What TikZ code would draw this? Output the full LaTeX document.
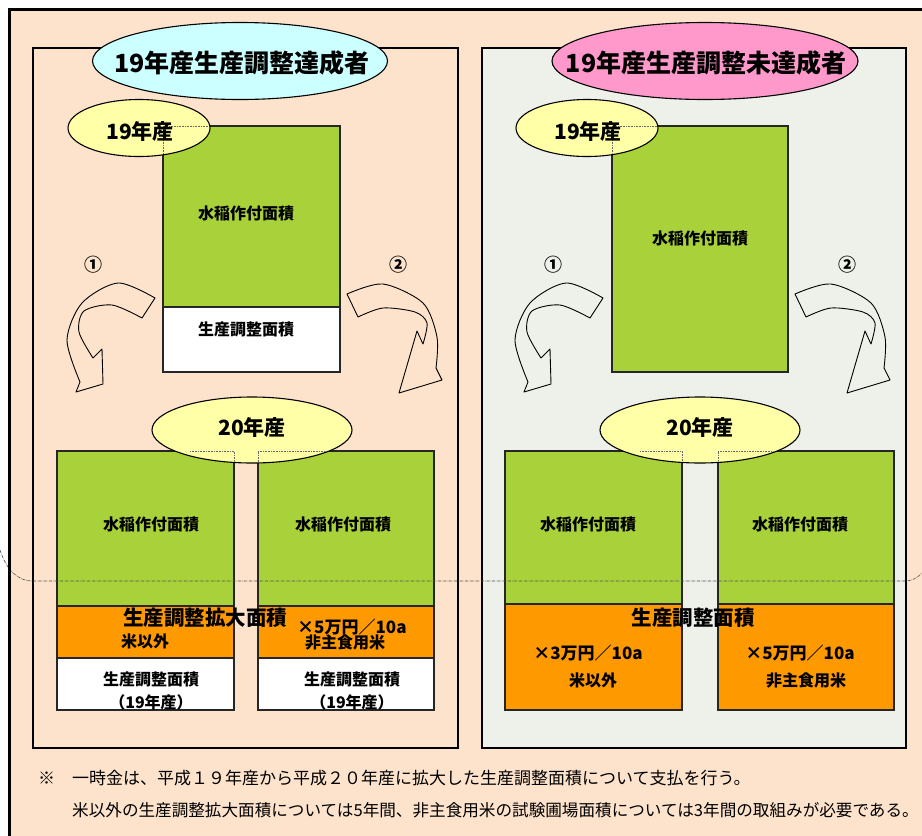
\documentclass[tikz,border=0pt]{standalone}
\usepackage{fontspec}
\setmainfont{Noto Sans CJK JP}
\usetikzlibrary{shapes.geometric}
\definecolor{peach}{HTML}{FDE3CC}
\definecolor{rpanel}{HTML}{EDF1EA}
\definecolor{grn}{HTML}{A9D23A}
\definecolor{grnline}{HTML}{9CC82A}
\definecolor{org}{HTML}{FF9900}
\definecolor{ylw}{HTML}{FFFFA8}
\definecolor{cyn}{HTML}{CCFFFF}
\definecolor{pnk}{HTML}{FF99CC}
\tikzset{
  fs/.style={font=\bfseries\fontsize{#1}{#1}\selectfont},
  txt/.style={inner sep=0pt, fs=#1},
  txt/.default=16,
  panel/.style={draw=black, line width=1.1pt, anchor=north west, inner sep=0pt, outer sep=0pt},
  bx/.style={draw=black!85, line width=1.4pt, anchor=north west, inner sep=0pt, outer sep=0pt},
  gbox/.style={bx, fill=grn},
  obox/.style={bx, fill=org},
  wbox/.style={bx, fill=white},
  ell/.style={ellipse, draw=black, line width=1.1pt, inner sep=0pt},
  yell/.style={ell, fill=ylw},
  carrow/.style={draw=black, line width=0.9pt, line join=round},
  num/.style={inner sep=0pt, font=\bfseries\fontsize{18}{18}\selectfont},
  foot/.style={inner sep=0pt, anchor=west, font=\fontsize{#1}{#1}\selectfont},
  foot/.default=17,
}
\begin{document}
\begin{tikzpicture}[x=1pt,y=-1pt]
\useasboundingbox (0,0) rectangle (922,836);
\fill[white] (0,0) rectangle (922,836);
\fill[peach] (9.5,9.5) rectangle (922,836);

% panels
\node[panel, minimum width=425pt, minimum height=700pt] (pL) at (33,48) {};
\node[panel, fill=rpanel, minimum width=424pt, minimum height=700pt] (pR) at (482,48) {};

% title ellipses
\node[ell, fill=cyn, minimum width=295pt, minimum height=77pt] (tL) at (240,61) {};
\node[txt=25] (tLt) at (242,63) {19年産生産調整達成者};
\node[ell, fill=pnk, minimum width=306pt, minimum height=77pt] (tR) at (705,61) {};
\node[txt=25] (tRt) at (706,63) {19年産生産調整未達成者};

% ---------- left panel, 19 ----------
\node[gbox, minimum width=177pt, minimum height=181pt] (g19L) at (163,126) {};
\node[wbox, minimum width=177pt, minimum height=65pt] (w19L) at (163,307) {};
\node[txt] (g19Lt) at (246,213) {水稲作付面積};
\node[txt] (w19Lt) at (246,329) {生産調整面積};
\node[yell, minimum width=142pt, minimum height=57pt] (e19L) at (139,128) {};
\begin{scope}
\clip (139,128) ellipse [x radius=70pt, y radius=27.5pt];
\draw[densely dotted, black!60, line width=0.6pt] (163,160) -- (163,126) -- (250,126);
\end{scope}
\node[txt=21] (e19Lt) at (140,131) {19年産};

% ---------- right panel, 19 ----------
\node[gbox, minimum width=176pt, minimum height=246pt] (g19R) at (612,126) {};
\node[txt] (g19Rt) at (700,238) {水稲作付面積};
\node[yell, minimum width=142pt, minimum height=57pt] (e19R) at (587,128) {};
\begin{scope}
\clip (587,128) ellipse [x radius=70pt, y radius=27.5pt];
\draw[densely dotted, black!60, line width=0.6pt] (612,160) -- (612,126) -- (700,126);
\end{scope}
\node[txt=21] (e19Rt) at (588,131) {19年産};

% circled numbers
\node[num] (n1L) at (93,265) {①};
\node[num] (n2L) at (398,265) {②};
\node[num] (n1R) at (553,265) {①};
\node[num] (n2R) at (847,265) {②};

% curved arrows
\foreach \dx in {0,448}{
\begin{scope}[xshift=\dx pt]
\draw[carrow] plot[smooth] coordinates {(155,298) (118,283) (82,303) (67,340) (80,382)}
  -- (76,392) -- (103,384) -- (102,349) -- (93,358)
  -- plot[smooth] coordinates {(93,358) (79,332) (84,311) (112,305) (142,318)} -- cycle;
\draw[carrow] plot[smooth] coordinates {(347,294) (383,284) (423,303) (437,337) (436,368)}
  -- (442,380) -- (399,393) -- (417,331) -- (423,344)
  -- plot[smooth] coordinates {(423,344) (427,323) (415,312) (383,308) (358,317)} -- cycle;
\end{scope}
}

% ---------- left panel, 20 ----------
\node[gbox, minimum width=177pt, minimum height=155pt] (gA) at (57,451) {};
\node[obox, minimum width=177pt, minimum height=52pt] (oA) at (57,606) {};
\node[wbox, minimum width=177pt, minimum height=52pt] (wA) at (57,658) {};
\node[gbox, minimum width=176pt, minimum height=155pt] (gB) at (258,451) {};
\node[obox, minimum width=176pt, minimum height=52pt] (oB) at (258,606) {};
\node[wbox, minimum width=176pt, minimum height=52pt] (wB) at (258,658) {};
\node[txt] (gAt) at (151,524) {水稲作付面積};
\node[txt] (gBt) at (343,524) {水稲作付面積};
\node[txt, anchor=west] (oAt) at (121,641) {米以外};
\node[txt=17, anchor=west] (oBt1) at (297,627) {×5万円／10a};
\node[txt, anchor=west] (oBt2) at (305,642) {非主食用米};
\node[txt=20.5] (bigL) at (205,618) {生産調整拡大面積};
\node[txt] (wAt1) at (151,679) {生産調整面積};
\node[txt] (wAt2) at (151,702) {（19年産）};
\node[txt] (wBt1) at (352,679) {生産調整面積};
\node[txt] (wBt2) at (352,702) {（19年産）};
\node[yell, minimum width=200pt, minimum height=66pt] (e20L) at (252,430) {};
\begin{scope}
\clip (252,430) ellipse [x radius=99pt, y radius=32pt];
\draw[densely dotted, black!60, line width=0.6pt] (190,451) -- (234,451) -- (234,470);
\draw[densely dotted, black!60, line width=0.6pt] (258,470) -- (258,451) -- (330,451);
\end{scope}
\node[txt=21] (e20Lt) at (252,427) {20年産};

% ---------- right panel, 20 ----------
\node[gbox, minimum width=177pt, minimum height=153pt] (gC) at (505,451) {};
\node[obox, minimum width=177pt, minimum height=106pt] (oC) at (505,604) {};
\node[gbox, minimum width=176pt, minimum height=153pt] (gD) at (718,451) {};
\node[obox, minimum width=176pt, minimum height=106pt] (oD) at (718,604) {};
\node[txt] (gCt) at (588,524) {水稲作付面積};
\node[txt] (gDt) at (800,524) {水稲作付面積};
\node[txt=20.5] (bigR) at (693,618) {生産調整面積};
\node[txt=17] (oCt1) at (588,653) {×3万円／10a};
\node[txt] (oCt2) at (593,680) {米以外};
\node[txt=17] (oDt1) at (800,653) {×5万円／10a};
\node[txt] (oDt2) at (806,680) {非主食用米};
\node[yell, minimum width=200pt, minimum height=66pt] (e20R) at (700,430) {};
\begin{scope}
\clip (700,430) ellipse [x radius=99pt, y radius=32pt];
\draw[densely dotted, black!60, line width=0.6pt] (640,451) -- (682,451) -- (682,470);
\draw[densely dotted, black!60, line width=0.6pt] (718,470) -- (718,451) -- (780,451);
\end{scope}
\node[txt=21] (e20Rt) at (700,427) {20年産};

% dash-dot cut line
\draw[densely dashdotted, black!70, line width=0.6pt] (0,550) .. controls (6,568) and (16,581) .. (33,581) -- (905,581) .. controls (912,581) and (917,578) .. (922,573);

% outer frame
\draw[black, line width=3.5pt] (9.5,836) -- (9.5,9.5) -- (922,9.5);

% footnote
\node[foot] (fn0) at (38,778) {※};
\node[foot] (fn1) at (72,778) {一時金は、平成１９年産から平成２０年産に拡大した生産調整面積について支払を行う。};
\node[foot=16.6] (fn2) at (72,810) {米以外の生産調整拡大面積については5年間、非主食用米の試験圃場面積については3年間の取組みが必要である。};
\end{tikzpicture}
\end{document}
